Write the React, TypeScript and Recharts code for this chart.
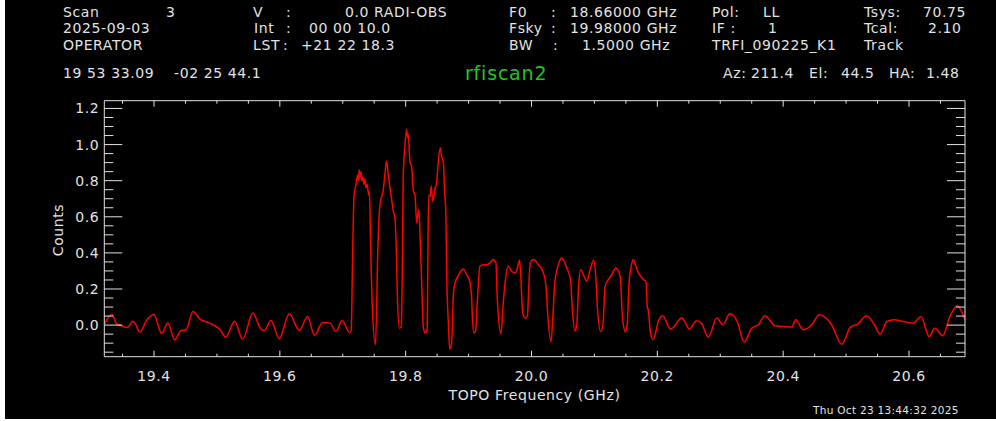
import { Line, LineChart, XAxis, YAxis } from "recharts";

// spectrum (GHz, counts)
const freqs = [
  19.321, 19.333, 19.341, 19.349, 19.357, 19.367, 19.378, 19.388, 19.4, 19.412, 19.422, 19.433, 19.442, 19.451,
  19.462, 19.473, 19.484, 19.494, 19.505, 19.514, 19.528, 19.541, 19.557, 19.569, 19.575, 19.586, 19.599, 19.615,
  19.631, 19.644, 19.655, 19.668, 19.68, 19.689, 19.699, 19.711, 19.7135, 19.7155, 19.718, 19.721, 19.7235, 19.725,
  19.726, 19.727, 19.729, 19.73, 19.732, 19.734, 19.735, 19.737, 19.739, 19.741, 19.7425, 19.744, 19.747, 19.752,
  19.756, 19.759, 19.762, 19.764, 19.767, 19.7695, 19.772, 19.775, 19.777, 19.7805, 19.783, 19.785, 19.787, 19.79,
  19.793, 19.795, 19.796, 19.797, 19.799, 19.8015, 19.803, 19.804, 19.807, 19.8095, 19.812, 19.815, 19.8175, 19.819,
  19.821, 19.8225, 19.825, 19.828, 19.831, 19.834, 19.836, 19.837, 19.839, 19.8405, 19.843, 19.844, 19.847, 19.849,
  19.851, 19.855, 19.857, 19.86, 19.8615, 19.864, 19.865, 19.868, 19.87, 19.873, 19.876, 19.8785, 19.883, 19.886,
  19.8915, 19.897, 19.902, 19.905, 19.906, 19.9085, 19.911, 19.914, 19.918, 19.923, 19.929, 19.934, 19.939, 19.9435,
  19.9455, 19.947, 19.9515, 19.955, 19.958, 19.963, 19.9685, 19.974, 19.977, 19.981, 19.983, 19.986, 19.99, 19.9935,
  19.9955, 19.998, 20.003, 20.011, 20.019, 20.023, 20.026, 20.031, 20.034, 20.037, 20.042, 20.048, 20.056, 20.062,
  20.065, 20.069, 20.072, 20.0745, 20.078, 20.0835, 20.088, 20.093, 20.099, 20.102, 20.105, 20.11, 20.1135, 20.117,
  20.122, 20.1275, 20.134, 20.141, 20.1445, 20.149, 20.152, 20.155, 20.159, 20.162, 20.1645, 20.17, 20.174, 20.1777,
  20.182, 20.184, 20.1855, 20.189, 20.193, 20.196, 20.2015, 20.2085, 20.221, 20.239, 20.251, 20.2625, 20.27, 20.281,
  20.2945, 20.304, 20.315, 20.327, 20.338, 20.35, 20.3605, 20.371, 20.387, 20.4, 20.4135, 20.42, 20.432, 20.4455,
  20.4575, 20.477, 20.493, 20.507, 20.519, 20.5327, 20.545, 20.554, 20.565, 20.576, 20.591, 20.607, 20.619, 20.632,
  20.641, 20.6535, 20.665, 20.6767, 20.689,
];
const counts = [
  0.005, 0.059, 0.005, -0.004, -0.013, 0.022, -0.039, 0.026, 0.057, -0.045, 0.011, -0.082, -0.032, -0.026,
  0.076, 0.033, 0.017, 0.002, -0.026, -0.067, 0.022, -0.078, 0.067, -0.017, -0.03, 0.026, -0.076, 0.063,
  -0.03, 0.048, -0.056, 0.014, 0.011, -0.035, 0.026, -0.041, -0.03, 0.35, 0.72, 0.78, 0.83, 0.8,
  0.86, 0.82, 0.85, 0.8, 0.82, 0.78, 0.81, 0.76, 0.78, 0.72, 0.74, 0.5, 0.1, -0.109,
  0.45, 0.66, 0.714, 0.74, 0.835, 0.909, 0.844, 0.76, 0.714, 0.63, 0.59, 0.44, 0.14, -0.017,
  -0.01, 0.418, 0.8, 0.9, 1.0, 1.085, 1.04, 1.06, 0.9, 0.881, 0.75, 0.714, 0.567, 0.603,
  0.64, 0.53, 0.289, -0.008, -0.044, -0.03, 0.6, 0.72, 0.714, 0.77, 0.687, 0.7, 0.761, 0.78,
  0.87, 0.983, 0.937, 0.9, 0.77, 0.6, 0.326, 0.0, -0.132, -0.1, 0.178, 0.233, 0.27, 0.289,
  0.311, 0.279, 0.242, 0.14, 0.048, -0.044, -0.035, 0.14, 0.326, 0.335, 0.335, 0.345, 0.363, 0.344,
  0.159, 0.067, -0.048, 0.12, 0.233, 0.326, 0.298, 0.289, 0.31, 0.359, 0.27, 0.067, 0.039, 0.05,
  0.2, 0.344, 0.363, 0.335, 0.289, 0.215, 0.048, -0.091, 0.05, 0.233, 0.326, 0.372, 0.317, 0.252,
  0.085, -0.032, 0.0, 0.196, 0.307, 0.27, 0.242, 0.307, 0.359, 0.279, 0.085, -0.035, 0.0, 0.215,
  0.252, 0.279, 0.317, 0.27, 0.048, -0.035, 0.0, 0.233, 0.335, 0.363, 0.34, 0.289, 0.27, 0.252,
  0.242, 0.1, 0.085, -0.04, -0.08, -0.06, 0.02, 0.052, -0.022, 0.039, -0.021, 0.024, 0.011, -0.067,
  0.039, 0.002, 0.063, 0.02, -0.094, -0.017, 0.002, 0.052, -0.004, -0.008, -0.011, 0.029, -0.026, 0.002,
  0.057, 0.002, -0.106, -0.011, 0.007, 0.052, 0.002, -0.05, 0.02, 0.029, 0.02, 0.011, 0.048, -0.063,
  -0.017, -0.059, 0.048, 0.107, 0.029,
];

// ticks every 0.05; labelled (major) every 0.2
const xTicks = [
  19.35, 19.4, 19.45, 19.5, 19.55, 19.6, 19.65, 19.7, 19.75, 19.8, 19.85, 19.9, 19.95, 20.0, 20.05, 20.1, 20.15, 20.2,
  20.25, 20.3, 20.35, 20.4, 20.45, 20.5, 20.55, 20.6, 20.65,
];
const yTicks = [
  -0.15, -0.1, -0.05, 0, 0.05, 0.1, 0.15, 0.2, 0.25, 0.3, 0.35, 0.4, 0.45, 0.5, 0.55, 0.6, 0.65, 0.7, 0.75, 0.8, 0.85,
  0.9, 0.95, 1.0, 1.05, 1.1, 1.15, 1.2,
];
const xDomain: [number, number] = [19.321, 20.689];
const yDomain: [number, number] = [-0.175, 1.243];

const rows = freqs.map((f, i) => ({ f, v: counts[i] }));

const fg = "#e2e2e2";
const font = "'DejaVu Sans', sans-serif";

// header text: [text, left, centerY]
const header: [string, number, number][] = [
  ["Scan", 63, 12],
  ["3", 166, 12],
  ["V", 253, 12],
  [":", 286, 12],
  ["0.0 RADI-OBS", 345, 12],
  ["2025-09-03", 63, 28],
  ["Int", 254, 28],
  [":", 286, 28],
  ["00 00 10.0", 309, 28],
  ["OPERATOR", 63, 45],
  ["LST", 253, 45],
  [":", 283, 45],
  ["+21 22 18.3", 301, 45],
  ["F0", 509, 12],
  [":", 551, 12],
  ["18.66000 GHz", 570, 12],
  ["Fsky", 509, 28],
  [":", 551, 28],
  ["19.98000 GHz", 570, 28],
  ["BW", 509, 45],
  [":", 553, 45],
  ["1.5000 GHz", 582, 45],
  ["Pol:", 712, 12],
  ["LL", 763, 12],
  ["IF :", 712, 28],
  ["1", 768, 28],
  ["TRFI_090225_K1", 712, 45],
  ["Tsys:", 864, 12],
  ["70.75", 923, 12],
  ["Tcal:", 864, 28],
  ["2.10", 928, 28],
  ["Track", 864, 45],
  ["19 53 33.09", 63, 73],
  ["-02 25 44.1", 174, 73],
  ["Az:", 723, 73],
  ["211.4", 751, 73],
  ["El:", 809, 73],
  ["44.5", 841, 73],
  ["HA:", 889, 73],
  ["1.48", 926, 73],
];

const txt = (left: number, cy: number, size = 14): React.CSSProperties => ({
  position: "absolute",
  left,
  top: cy - 10,
  height: 20,
  lineHeight: "20px",
  fontSize: size,
  fontFamily: font,
  color: fg,
  whiteSpace: "pre",
  letterSpacing: 0.6,
});

const isMajor = (v: number) => Math.abs(v * 5 - Math.round(v * 5)) < 1e-6;

// IDL-style inward ticks: x/y tick length ~2% of the plot's other dimension, minor half
type TickProps = { x: number; y: number; payload: { value: number } };

const BottomTick = ({ x, y, payload }: TickProps) => {
  const major = isMajor(payload.value);
  return (
    <g>
      <line x1={x} x2={x} y1={y} y2={y - (major ? 6 : 3)} stroke={fg} />
      {major && (
        <text x={x} y={y + 24} textAnchor="middle" fill={fg} fontSize={14} fontFamily={font} letterSpacing={0.6}>
          {payload.value.toFixed(1)}
        </text>
      )}
    </g>
  );
};
const TopTick = ({ x, y, payload }: TickProps) => (
  <line x1={x} x2={x} y1={y} y2={y + (isMajor(payload.value) ? 6 : 3)} stroke={fg} />
);
const LeftTick = ({ x, y, payload }: TickProps) => {
  const major = isMajor(payload.value);
  return (
    <g>
      <line x1={x} x2={x + (major ? 18 : 9)} y1={y} y2={y} stroke={fg} />
      {major && (
        <text x={x - 5} y={y + 5} textAnchor="end" fill={fg} fontSize={14} fontFamily={font} letterSpacing={0.6}>
          {payload.value.toFixed(1)}
        </text>
      )}
    </g>
  );
};
const RightTick = ({ x, y, payload }: TickProps) => (
  <line x1={x} x2={x - (isMajor(payload.value) ? 18 : 9)} y1={y} y2={y} stroke={fg} />
);

export default function App() {
  return (
    <div style={{ position: "absolute", left: 0, top: 0, width: 996, height: 421, background: "#fff" }}>
      <div style={{ position: "absolute", left: 5, top: 0, width: 991, height: 419, background: "#000" }} />
      <div style={{ position: "absolute", left: 0, top: 0 }}>
        <LineChart width={996} height={421} data={rows} margin={{ top: 100.7, right: 31, bottom: 64.3, left: 104.3 }}>
          <XAxis xAxisId="b" orientation="bottom" type="number" dataKey="f" domain={xDomain} allowDataOverflow
            ticks={xTicks} interval={0} mirror tickLine={false} tickSize={0} tickMargin={0} tick={BottomTick}
            axisLine={{ stroke: fg }} />
          <XAxis xAxisId="t" orientation="top" type="number" dataKey="f" domain={xDomain} allowDataOverflow
            ticks={xTicks} interval={0} mirror tickLine={false} tickSize={0} tickMargin={0} tick={TopTick}
            axisLine={{ stroke: fg }} />
          <YAxis yAxisId="l" orientation="left" type="number" domain={yDomain} allowDataOverflow
            ticks={yTicks} interval={0} mirror tickLine={false} tickSize={0} tickMargin={0} tick={LeftTick}
            axisLine={{ stroke: fg }} />
          <YAxis yAxisId="r" orientation="right" type="number" domain={yDomain} allowDataOverflow
            ticks={yTicks} interval={0} mirror tickLine={false} tickSize={0} tickMargin={0} tick={RightTick}
            axisLine={{ stroke: fg }} />
          <Line
            xAxisId="b"
            yAxisId="l"
            type="monotone"
            dataKey="v"
            stroke="#ff0000"
            strokeWidth={1.5}
            dot={false}
            isAnimationActive={false}
          />
        </LineChart>
      </div>
      {header.map(([t, x, y], i) => (
        <div key={i} style={txt(x, y)}>
          {t}
        </div>
      ))}
      <div style={{ ...txt(465, 73, 19), color: "#1ec81e", letterSpacing: 0.8 }}>rfiscan2</div>
      <div style={{ ...txt(0, 395), width: 1069, textAlign: "center" }}>TOPO Frequency (GHz)</div>
      <div
        style={{
          ...txt(58 - 40, 230),
          width: 80,
          textAlign: "center",
          transform: "rotate(-90deg)",
        }}
      >
        Counts
      </div>
      <div style={{ ...txt(813, 410, 10.5), letterSpacing: 0.3 }}>Thu Oct 23 13:44:32 2025</div>
    </div>
  );
}
